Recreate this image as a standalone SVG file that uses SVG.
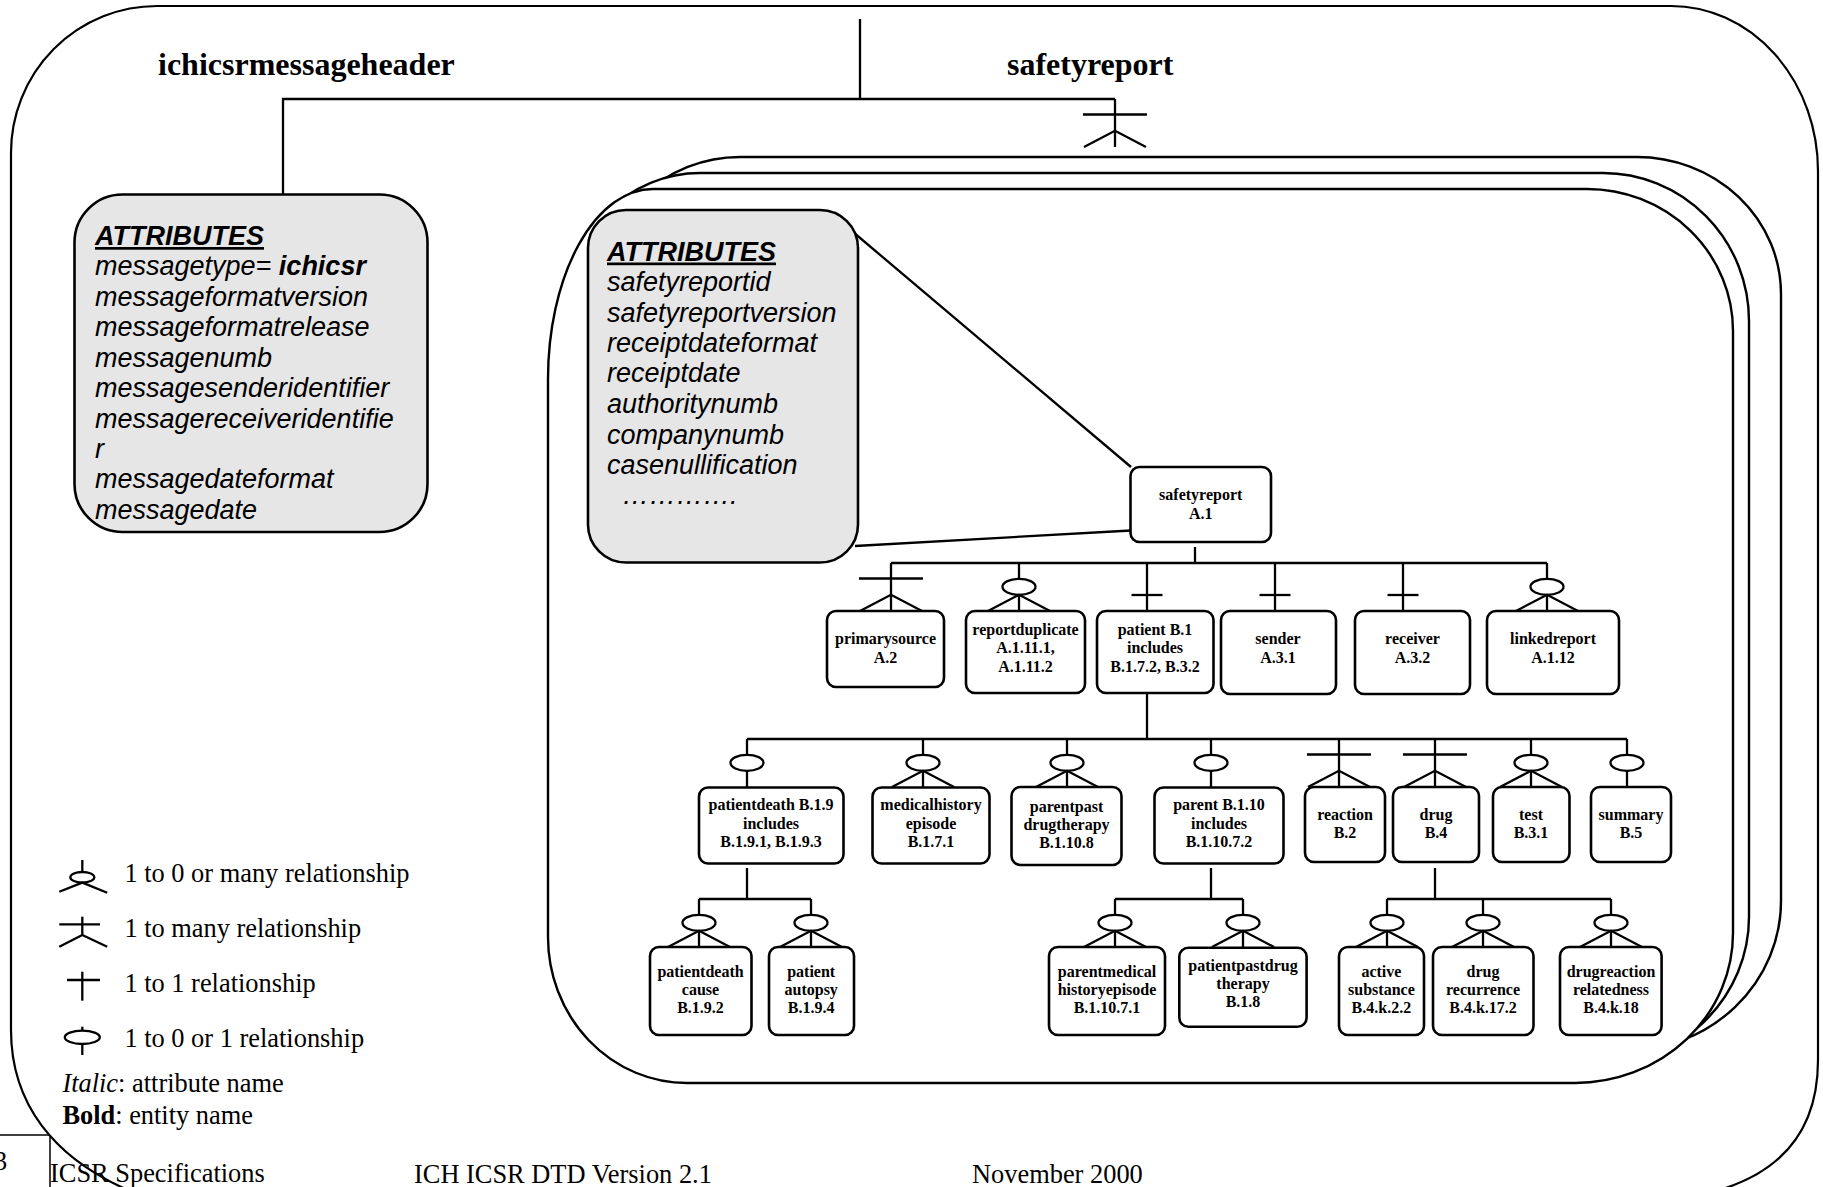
<svg xmlns="http://www.w3.org/2000/svg" xmlns:xlink="http://www.w3.org/1999/xlink" width="1823" height="1187" viewBox="0 0 1823 1187">
<style>
.ln{stroke:#000;stroke-width:2.3;fill:none}
.frame{stroke:#000;stroke-width:2.2;fill:none}
.cont{stroke:#000;stroke-width:2.4;fill:#fff}
.box{stroke:#000;stroke-width:2.6;fill:#fff}
.attrbox{stroke:#000;stroke-width:2.6;fill:#e6e6e6}
.el{stroke:#000;stroke-width:2.3;fill:#fff}
.nt{font-family:"Liberation Serif","Times New Roman",serif;font-weight:bold;font-size:16px;text-anchor:middle;fill:#000}
.title{font-family:"Liberation Serif","Times New Roman",serif;font-weight:bold;font-size:32px;fill:#000}
.at{font-family:"Liberation Sans",Arial,sans-serif;font-style:italic;font-size:27px;fill:#000}
.ah{font-weight:bold;text-decoration:underline}
.leg{font-family:"Liberation Serif","Times New Roman",serif;font-size:26.4px;fill:#000}
</style>
<defs>
<g id="zm"><line class="ln" x1="0" y1="0" x2="0" y2="16"/><ellipse class="el" cx="0" cy="23.8" rx="16.5" ry="8"/><line class="ln" x1="0" y1="31.8" x2="0" y2="48"/><polyline class="ln" points="-31,48 0,31.8 31,48"/></g>
<g id="om"><line class="ln" x1="0" y1="0" x2="0" y2="48"/><line class="ln" x1="-32" y1="15.5" x2="32" y2="15.5"/><polyline class="ln" points="-31,48 0,31.8 31,48"/></g>
<g id="oo"><line class="ln" x1="0" y1="0" x2="0" y2="48"/><line class="ln" x1="-15.5" y1="32" x2="15.5" y2="32"/></g>
<g id="zo"><line class="ln" x1="0" y1="0" x2="0" y2="16"/><ellipse class="el" cx="0" cy="23.8" rx="16.5" ry="8"/><line class="ln" x1="0" y1="31.8" x2="0" y2="48"/></g>
</defs>

<g id="outer-frame">
<path class="frame" d="M 157,6 H 1671 A 147 165 0 0 1 1818 171 V 1060 C 1818,1140 1770,1180 1700,1195 H 140 C 50,1160 11,1100 11,1030 V 153 A 146 147 0 0 1 157 6 Z"/>
</g>

<g id="footer">
<line x1="0" y1="1135" x2="50" y2="1135" stroke="#000" stroke-width="1.5"/>
<line x1="50" y1="1135" x2="50" y2="1187" stroke="#000" stroke-width="1.5"/>
<text class="leg" x="-6" y="1170">3</text>
<text class="leg" x="50" y="1182">ICSR Specifications</text>
<text class="leg" x="414" y="1183">ICH ICSR DTD Version 2.1</text>
<text class="leg" x="972" y="1183">November 2000</text>
</g>

<g id="header-labels">
<text class="title" x="158" y="75">ichicsrmessageheader</text>
<text class="title" x="1007" y="75">safetyreport</text>
</g>

<g id="safetyreport-stack">
<path class="cont" d="M 740,157 H 1637 A 144 137 0 0 1 1781 294 V 901 A 157 150 0 0 1 1624 1051 H 740 A 142 142 0 0 1 598 909 V 299 A 142 142 0 0 1 740 157 Z"/>
<path class="cont" d="M 700,173 H 1603 A 146 148 0 0 1 1749 321 V 917 A 158 150 0 0 1 1591 1067 H 700 A 134 140 0 0 1 566 927 V 313 A 134 140 0 0 1 700 173 Z"/>
<path class="cont" d="M 653,189 H 1587 A 146 142 0 0 1 1733 331 V 933 A 158 150 0 0 1 1575 1083 H 687 A 139 146 0 0 1 548 937 V 379 A 105 190 0 0 1 653 189 Z"/>
</g>

<g id="connectors">
<line class="ln" x1="860" y1="19" x2="860" y2="99"/>
<polyline class="ln" points="283,194.5 283,99 1115,99"/>
<use xlink:href="#om" href="#om" x="1115" y="99"/>
<line class="ln" x1="853" y1="232" x2="1131" y2="467"/>
<line class="ln" x1="855" y1="546" x2="1131" y2="530.5"/>
<line class="ln" x1="1195" y1="547" x2="1195" y2="563"/>
<line class="ln" x1="891" y1="563" x2="1547" y2="563"/>
<use href="#om" xlink:href="#om" x="891" y="563"/>
<use href="#zm" xlink:href="#zm" x="1019" y="563"/>
<use href="#oo" xlink:href="#oo" x="1147" y="563"/>
<use href="#oo" xlink:href="#oo" x="1275" y="563"/>
<use href="#oo" xlink:href="#oo" x="1403" y="563"/>
<use href="#zm" xlink:href="#zm" x="1547" y="563"/>
<line class="ln" x1="1147" y1="693" x2="1147" y2="739"/>
<line class="ln" x1="747" y1="739" x2="1627" y2="739"/>
<use href="#zo" xlink:href="#zo" x="747" y="739"/>
<use href="#zm" xlink:href="#zm" x="923" y="739"/>
<use href="#zm" xlink:href="#zm" x="1067" y="739"/>
<use href="#zo" xlink:href="#zo" x="1211" y="739"/>
<use href="#om" xlink:href="#om" x="1339" y="739"/>
<use href="#om" xlink:href="#om" x="1435" y="739"/>
<use href="#zm" xlink:href="#zm" x="1531" y="739"/>
<use href="#zo" xlink:href="#zo" x="1627" y="739"/>
<line class="ln" x1="747" y1="868" x2="747" y2="899"/>
<line class="ln" x1="699" y1="899" x2="811" y2="899"/>
<use href="#zm" xlink:href="#zm" x="699" y="899"/>
<use href="#zm" xlink:href="#zm" x="811" y="899"/>
<line class="ln" x1="1211" y1="868" x2="1211" y2="899"/>
<line class="ln" x1="1115" y1="899" x2="1243" y2="899"/>
<use href="#zm" xlink:href="#zm" x="1115" y="899"/>
<use href="#zm" xlink:href="#zm" x="1243" y="899"/>
<line class="ln" x1="1435" y1="868" x2="1435" y2="899"/>
<line class="ln" x1="1387" y1="899" x2="1611" y2="899"/>
<use href="#zm" xlink:href="#zm" x="1387" y="899"/>
<use href="#zm" xlink:href="#zm" x="1483" y="899"/>
<use href="#zm" xlink:href="#zm" x="1611" y="899"/>
</g>

<g id="header-attributes">
<rect class="attrbox" x="74.5" y="194.5" width="353" height="337.5" rx="48" ry="48"/>
<text class="at ah" x="95" y="245">ATTRIBUTES</text>
<text class="at" x="95" y="275.3">messagetype= <tspan font-weight="bold">ichicsr</tspan></text>
<text class="at" x="95" y="305.6">messageformatversion</text>
<text class="at" x="95" y="336">messageformatrelease</text>
<text class="at" x="95" y="366.5">messagenumb</text>
<text class="at" x="95" y="397">messagesenderidentifier</text>
<text class="at" x="95" y="427.5">messagereceiveridentifie</text>
<text class="at" x="95" y="457.5">r</text>
<text class="at" x="95" y="488">messagedateformat</text>
<text class="at" x="95" y="518.5">messagedate</text>
</g>

<g id="safetyreport-attributes">
<rect class="attrbox" x="588" y="210" width="270" height="352.5" rx="38" ry="38"/>
<text class="at ah" x="607" y="260.5">ATTRIBUTES</text>
<text class="at" x="607" y="291">safetyreportid</text>
<text class="at" x="607" y="321.5">safetyreportversion</text>
<text class="at" x="607" y="351.5">receiptdateformat</text>
<text class="at" x="607" y="382">receiptdate</text>
<text class="at" x="607" y="412.5">authoritynumb</text>
<text class="at" x="607" y="443.5">companynumb</text>
<text class="at" x="607" y="474">casenullification</text>
<text class="at" x="622" y="504">………….</text>
</g>

<g id="node-safetyreport">
<rect class="box" x="1130.5" y="467" width="140.5" height="75" rx="9"/>
<text class="nt" x="1200.7" y="500">safetyreport</text>
<text class="nt" x="1200.7" y="519">A.1</text>
</g>

<g id="node-primarysource"><rect class="box" x="827" y="611" width="117" height="76" rx="9"/>
<text class="nt" x="885.5" y="644">primarysource</text><text class="nt" x="885.5" y="662.7">A.2</text></g>
<g id="node-reportduplicate"><rect class="box" x="966" y="611" width="119" height="82" rx="9"/>
<text class="nt" x="1025.5" y="635">reportduplicate</text><text class="nt" x="1025.5" y="653.3">A.1.11.1,</text><text class="nt" x="1025.5" y="671.7">A.1.11.2</text></g>
<g id="node-patient"><rect class="box" x="1097" y="611" width="116.5" height="82" rx="9"/>
<text class="nt" x="1155" y="635">patient B.1</text><text class="nt" x="1155" y="653.3">includes</text><text class="nt" x="1155" y="671.7">B.1.7.2, B.3.2</text></g>
<g id="node-sender"><rect class="box" x="1221" y="611" width="115" height="83" rx="9"/>
<text class="nt" x="1278" y="644">sender</text><text class="nt" x="1278" y="662.7">A.3.1</text></g>
<g id="node-receiver"><rect class="box" x="1355" y="611" width="115" height="83" rx="9"/>
<text class="nt" x="1412.5" y="644">receiver</text><text class="nt" x="1412.5" y="662.7">A.3.2</text></g>
<g id="node-linkedreport"><rect class="box" x="1487" y="611" width="132" height="83" rx="9"/>
<text class="nt" x="1553" y="644">linkedreport</text><text class="nt" x="1553" y="662.7">A.1.12</text></g>

<g id="node-patientdeath"><rect class="box" x="699" y="787.5" width="144.5" height="76" rx="9"/>
<text class="nt" x="771" y="810">patientdeath B.1.9</text><text class="nt" x="771" y="828.7">includes</text><text class="nt" x="771" y="847.3">B.1.9.1, B.1.9.3</text></g>
<g id="node-medicalhistory"><rect class="box" x="872.5" y="787.5" width="117" height="76" rx="9"/>
<text class="nt" x="931" y="810">medicalhistory</text><text class="nt" x="931" y="828.7">episode</text><text class="nt" x="931" y="847.3">B.1.7.1</text></g>
<g id="node-parentpast"><rect class="box" x="1011.5" y="787" width="110" height="78" rx="9"/>
<text class="nt" x="1066.5" y="811.7">parentpast</text><text class="nt" x="1066.5" y="830">drugtherapy</text><text class="nt" x="1066.5" y="848.3">B.1.10.8</text></g>
<g id="node-parent"><rect class="box" x="1154.5" y="787.5" width="129" height="76" rx="9"/>
<text class="nt" x="1219" y="810">parent B.1.10</text><text class="nt" x="1219" y="828.7">includes</text><text class="nt" x="1219" y="847.3">B.1.10.7.2</text></g>
<g id="node-reaction"><rect class="box" x="1305" y="787" width="80" height="75" rx="9"/>
<text class="nt" x="1345" y="820">reaction</text><text class="nt" x="1345" y="838.3">B.2</text></g>
<g id="node-drug"><rect class="box" x="1393" y="787" width="86" height="75" rx="9"/>
<text class="nt" x="1436" y="820">drug</text><text class="nt" x="1436" y="838.3">B.4</text></g>
<g id="node-test"><rect class="box" x="1493" y="787" width="76.5" height="75" rx="9"/>
<text class="nt" x="1531" y="820">test</text><text class="nt" x="1531" y="838.3">B.3.1</text></g>
<g id="node-summary"><rect class="box" x="1591" y="787" width="80" height="75" rx="9"/>
<text class="nt" x="1631" y="820">summary</text><text class="nt" x="1631" y="838.3">B.5</text></g>

<g id="node-patientdeathcause"><rect class="box" x="650" y="947" width="101.5" height="88" rx="9"/>
<text class="nt" x="700.5" y="976.7">patientdeath</text><text class="nt" x="700.5" y="995">cause</text><text class="nt" x="700.5" y="1013.3">B.1.9.2</text></g>
<g id="node-patientautopsy"><rect class="box" x="769" y="947" width="85" height="88" rx="9"/>
<text class="nt" x="811.2" y="976.7">patient</text><text class="nt" x="811.2" y="995">autopsy</text><text class="nt" x="811.2" y="1013.3">B.1.9.4</text></g>
<g id="node-parentmedical"><rect class="box" x="1049" y="947" width="116" height="88" rx="9"/>
<text class="nt" x="1107" y="976.7">parentmedical</text><text class="nt" x="1107" y="995">historyepisode</text><text class="nt" x="1107" y="1013.3">B.1.10.7.1</text></g>
<g id="node-patientpastdrug"><rect class="box" x="1179.3" y="947.7" width="127.3" height="79" rx="9"/>
<text class="nt" x="1243" y="970.7">patientpastdrug</text><text class="nt" x="1243" y="989.3">therapy</text><text class="nt" x="1243" y="1007.3">B.1.8</text></g>
<g id="node-activesubstance"><rect class="box" x="1339" y="947" width="85" height="88" rx="9"/>
<text class="nt" x="1381.4" y="976.7">active</text><text class="nt" x="1381.4" y="995">substance</text><text class="nt" x="1381.4" y="1013.3">B.4.k.2.2</text></g>
<g id="node-drugrecurrence"><rect class="box" x="1433" y="947" width="100.5" height="88" rx="9"/>
<text class="nt" x="1483" y="976.7">drug</text><text class="nt" x="1483" y="995">recurrence</text><text class="nt" x="1483" y="1013.3">B.4.k.17.2</text></g>
<g id="node-drugreaction"><rect class="box" x="1560" y="947" width="101.6" height="88" rx="9"/>
<text class="nt" x="1611" y="976.7">drugreaction</text><text class="nt" x="1611" y="995">relatedness</text><text class="nt" x="1611" y="1013.3">B.4.k.18</text></g>

<g id="legend">
<line class="ln" x1="82.3" y1="860" x2="82.3" y2="872"/>
<ellipse class="el" cx="82.3" cy="877.3" rx="12" ry="5.3"/>
<polyline class="ln" points="59.3,891.7 82.3,882.6 107.2,892.7"/>
<text class="leg" x="124.4" y="882.3">1 to 0 or many relationship</text>
<line class="ln" x1="82.3" y1="916.7" x2="82.3" y2="935"/>
<line class="ln" x1="59.3" y1="924.3" x2="100" y2="924.3"/>
<polyline class="ln" points="59.3,946.7 82.3,935 107.2,946.7"/>
<text class="leg" x="124.4" y="937.3">1 to many relationship</text>
<line class="ln" x1="82.3" y1="971.7" x2="82.3" y2="1000.7"/>
<line class="ln" x1="67" y1="980" x2="100" y2="980"/>
<text class="leg" x="124.4" y="991.7">1 to 1 relationship</text>
<line class="ln" x1="82.3" y1="1026.7" x2="82.3" y2="1055"/>
<ellipse class="el" cx="82.3" cy="1037.3" rx="17.5" ry="6.7"/>
<text class="leg" x="124.4" y="1046.7">1 to 0 or 1 relationship</text>
<text class="leg" x="62.4" y="1091.7"><tspan font-style="italic">Italic</tspan>: attribute name</text>
<text class="leg" x="62.4" y="1124"><tspan font-weight="bold">Bold</tspan>: entity name</text>
</g>
</svg>
